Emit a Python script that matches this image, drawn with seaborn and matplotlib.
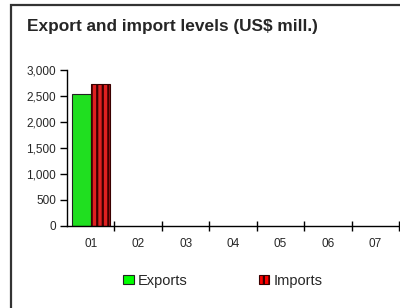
import matplotlib
matplotlib.use("Agg")
import matplotlib.pyplot as plt
import seaborn as sns
import pandas as pd
import numpy as np
from matplotlib.patches import Rectangle
from matplotlib.ticker import FuncFormatter, FixedLocator

categories = ["01", "02", "03", "04", "05", "06", "07"]
exports = [2550, np.nan, np.nan, np.nan, np.nan, np.nan, np.nan]
imports = [2730, np.nan, np.nan, np.nan, np.nan, np.nan, np.nan]
series = ["Exports", "Imports"]
colors = {"Exports": "#00FF00", "Imports": "#FF0000"}

df = pd.DataFrame({
    "cat": categories * 2,
    "value": exports + imports,
    "series": ["Exports"] * len(categories) + ["Imports"] * len(categories),
})

sns.set_style("white")
plt.rcParams["font.family"] = ["Liberation Sans", "DejaVu Sans"]
plt.rcParams["hatch.linewidth"] = 1.6
plt.rcParams["hatch.color"] = "#5a0000"

fig = plt.figure(figsize=(4.0, 3.08), dpi=100)
ax = fig.add_axes([67 / 400, (308 - 225.7) / 308, (399 - 67) / 400, (225.7 - 70.3) / 308])

sns.barplot(data=df, x="cat", y="value", hue="series", order=categories,
            hue_order=series, palette=colors, width=0.8, ax=ax,
            edgecolor="#222222", linewidth=0.8, legend=False)

for p in ax.containers[1]:
    p.set_hatch("|||")
    p.set_edgecolor("#3a0000")

ax.set_xlim(-0.5, 6.5)
ax.set_ylim(0, 3000)
ax.set_yticks(np.arange(0, 3001, 500))
ax.yaxis.set_major_formatter(FuncFormatter(lambda v, pos: f"{int(v):,}"))
ax.set_xlabel("")
ax.set_ylabel("")
for s in ["top", "right"]:
    ax.spines[s].set_visible(False)
for s in ["left", "bottom"]:
    ax.spines[s].set_color("black")
    ax.spines[s].set_linewidth(1.0)

ax.tick_params(axis="y", which="major", direction="out", length=5, width=1,
               color="black", labelsize=8.5, pad=3, left=True)
ax.tick_params(axis="x", which="major", length=0, labelsize=8.5, pad=9)
ax.xaxis.set_minor_locator(FixedLocator(np.arange(0.5, 7.0, 1.0)))
ax.tick_params(axis="x", which="minor", direction="inout", length=7, width=1,
               color="black", bottom=True)

fig.text(27 / 400, 1 - 27 / 308, "Export and import levels (US$ mill.)",
         fontsize=12.4, fontweight="bold", va="center", ha="left")

handles = [
    Rectangle((0, 0), 1, 1, facecolor=colors["Exports"], edgecolor="#222222", linewidth=0.8),
    Rectangle((0, 0), 1, 1, facecolor=colors["Imports"], edgecolor="#3a0000", linewidth=0.8, hatch="|||"),
]
fig.legend(handles, series, loc="center", bbox_to_anchor=(223 / 400, 1 - 281 / 308),
           ncol=2, frameon=False, fontsize=10.5, handlelength=0.7, handleheight=0.6,
           handletextpad=0.3, columnspacing=4.9)

border = Rectangle((11 / 400, -0.1), 1.2, (308 - 4.5) / 308 + 0.1, transform=fig.transFigure,
                   fill=False, edgecolor="#333333", linewidth=1.6, clip_on=False)
fig.patches.append(border)

fig.savefig("out.png", dpi=100)
